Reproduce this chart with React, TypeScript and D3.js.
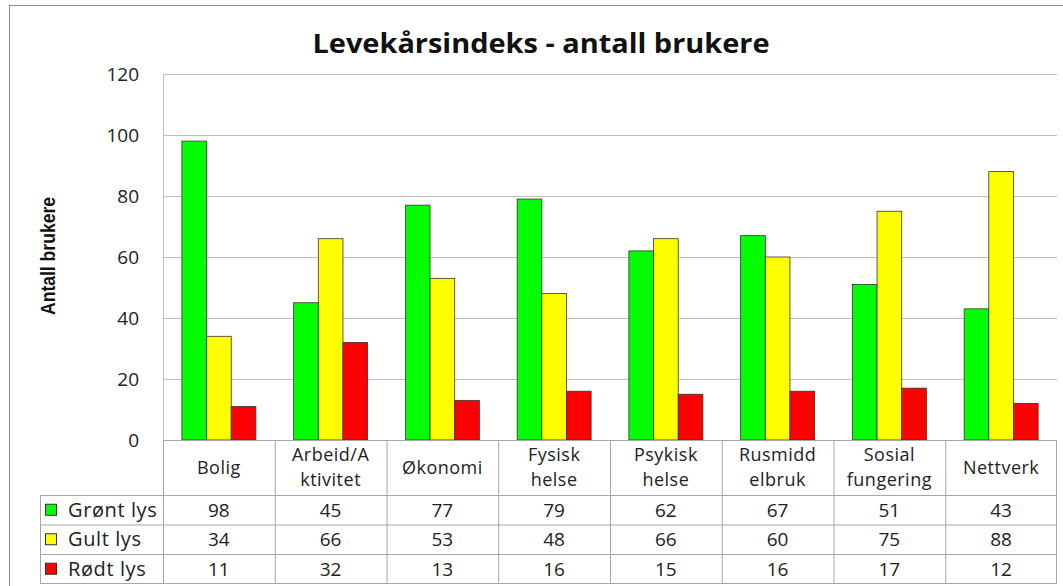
import React from 'react';
import * as d3 from 'd3';

// Levekårsindeks – grouped bars with a data table underneath (Excel style).

const CATEGORIES = [
  ['Bolig'],
  ['Arbeid/A', 'ktivitet'],
  ['Økonomi'],
  ['Fysisk', 'helse'],
  ['Psykisk', 'helse'],
  ['Rusmidd', 'elbruk'],
  ['Sosial', 'fungering'],
  ['Nettverk'],
];
const SERIES_NAMES = ['Grønt lys', 'Gult lys', 'Rødt lys'];
const SERIES_COLORS = ['#00ff00', '#ffff00', '#ff0000'];
const GRONT = [98, 45, 77, 79, 62, 67, 51, 43];
const GULT = [34, 66, 53, 48, 66, 60, 75, 88];
const RODT = [11, 32, 13, 16, 15, 16, 17, 12];
const Y_TICKS = [0, 20, 40, 60, 80, 100, 120];

const W = 1063;
const H = 586;
const PLOT = { left: 163, right: 1057, top: 74, bottom: 440 };
const TABLE_LEFT = 40;
const HEADER_BOTTOM = 495;
const ROW_H = 29.5;
const FONT = "'Open Sans', sans-serif";
const GRID = '#bfbfbf';
const TABLE_LINE = '#a6a6a6';

export default function App() {
  const values = [GRONT, GULT, RODT];
  const catIdx = CATEGORIES.map((_, i) => i);

  const x = d3.scaleBand<number>().domain(catIdx).range([PLOT.left, PLOT.right]).padding(0);
  const bw = x.bandwidth();
  const xs = d3
    .scaleBand<number>()
    .domain(SERIES_NAMES.map((_, i) => i))
    .range([bw * 0.169, bw * 0.831])
    .padding(0);
  const y = d3.scaleLinear().domain([0, 120]).range([PLOT.bottom, PLOT.top]);

  const tableBottom = HEADER_BOTTOM + ROW_H * SERIES_NAMES.length;

  return (
    <div style={{ position: 'fixed', left: 0, top: 0 }}>
      <svg width={W} height={H} style={{ display: 'block', background: '#fff' }}>
        {/* outer chart border */}
        <rect x={9.5} y={5.5} width={W + 20} height={H + 20} fill="#fff" stroke="#8c8c8c" />

        <text
          x={541}
          y={53}
          textAnchor="middle"
          fontFamily={FONT}
          fontWeight="bold"
          fontSize={26}
          textLength={457}
          lengthAdjust="spacingAndGlyphs"
          fill="#111"
        >
          Levekårsindeks - antall brukere
        </text>

        {/* y axis title */}
        <text
          transform={`translate(55, 256) rotate(-90)`}
          textAnchor="middle"
          fontFamily="'Liberation Sans Narrow', 'Liberation Sans', sans-serif"
          fontWeight="bold"
          fontSize={20}
          textLength={118}
          lengthAdjust="spacingAndGlyphs"
          fill="#111"
        >
          Antall brukere
        </text>

        {/* gridlines + ticks */}
        {Y_TICKS.map((t) => (
          <g key={`t-${t}`}>
            {t > 0 && (
              <line x1={PLOT.left} x2={PLOT.right} y1={Math.round(y(t)) + 0.5} y2={Math.round(y(t)) + 0.5} stroke={GRID} />
            )}
            <text
              x={139}
              y={y(t) + 7}
              textAnchor="end"
              fontFamily={FONT}
              fontSize={19}
              fill="#222"
            >
              {t}
            </text>
          </g>
        ))}
        <line x1={PLOT.left + 0.5} x2={PLOT.left + 0.5} y1={PLOT.top} y2={PLOT.bottom} stroke={GRID} />

        {/* bars */}
        {catIdx.map((c) => (
          <g key={`c-${c}`} transform={`translate(${x(c)}, 0)`}>
            {values.map((vals, s) => (
              <rect
                key={`b-${s}`}
                x={xs(s)}
                y={y(vals[c])}
                width={xs.bandwidth()}
                height={y(0) - y(vals[c])}
                fill={SERIES_COLORS[s]}
                stroke="#333"
                strokeWidth={0.8}
              />
            ))}
          </g>
        ))}

        {/* data table */}
        <g stroke={TABLE_LINE} strokeWidth={1}>
          <line x1={PLOT.left} x2={PLOT.right} y1={PLOT.bottom + 0.5} y2={PLOT.bottom + 0.5} />
          {SERIES_NAMES.map((_, r) => (
            <line
              key={`h-${r}`}
              x1={TABLE_LEFT}
              x2={PLOT.right}
              y1={HEADER_BOTTOM + r * ROW_H + 0.5}
              y2={HEADER_BOTTOM + r * ROW_H + 0.5}
            />
          ))}
          <line x1={TABLE_LEFT} x2={PLOT.right} y1={tableBottom} y2={tableBottom} />
          <line x1={TABLE_LEFT + 0.5} x2={TABLE_LEFT + 0.5} y1={HEADER_BOTTOM} y2={tableBottom} />
          {catIdx.map((c) => (
            <line key={`v-${c}`} x1={x(c)! + 0.5} x2={x(c)! + 0.5} y1={PLOT.bottom} y2={tableBottom} />
          ))}
          <line x1={PLOT.right - 0.5} x2={PLOT.right - 0.5} y1={PLOT.bottom} y2={tableBottom} />
        </g>

        {CATEGORIES.map((lines, c) => {
          const cx = x(c)! + bw / 2;
          const mid = (PLOT.bottom + HEADER_BOTTOM) / 2;
          const lh = 24.5;
          const start = mid - ((lines.length - 1) * lh) / 2 + 6;
          return lines.map((ln, i) => (
            <text
              key={`cl-${c}-${i}`}
              x={cx}
              y={start + i * lh}
              textAnchor="middle"
              fontFamily={FONT}
              fontSize={18}
              letterSpacing={0.5}
              fill="#222"
            >
              {ln}
            </text>
          ));
        })}

        {SERIES_NAMES.map((name, r) => {
          const rowMid = HEADER_BOTTOM + r * ROW_H + ROW_H / 2;
          return (
            <g key={`row-${r}`}>
              <rect x={45.5} y={rowMid - 5.5} width={11} height={11} fill={SERIES_COLORS[r]} stroke="#333" />
              <text x={68} y={rowMid + 7} fontFamily={FONT} fontSize={20} fill="#222" letterSpacing={0.6}>
                {name}
              </text>
              {values[r].map((v, c) => (
                <text
                  key={`v-${c}`}
                  x={x(c)! + bw / 2}
                  y={rowMid + 7}
                  textAnchor="middle"
                  fontFamily={FONT}
                  fontSize={19}
                  fill="#222"
                >
                  {v}
                </text>
              ))}
            </g>
          );
        })}
      </svg>
    </div>
  );
}
